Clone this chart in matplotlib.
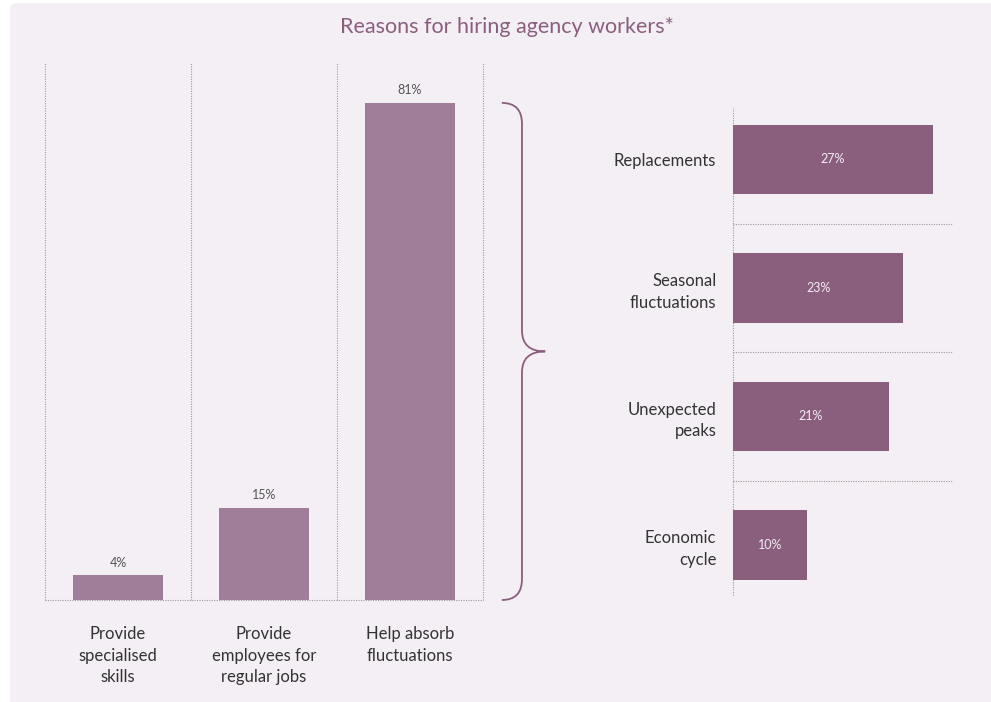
import matplotlib
matplotlib.use("Agg")
import matplotlib.pyplot as plt
from matplotlib.patches import FancyBboxPatch, PathPatch
from matplotlib.path import Path
import matplotlib.transforms as mtransforms

# ---- data ----
title = "Reasons for hiring agency workers*"
left_categories = ["Provide\nspecialised\nskills", "Provide\nemployees for\nregular jobs", "Help absorb\nfluctuations"]
left_values = [4, 15, 81]
right_categories = ["Replacements", "Seasonal\nfluctuations", "Unexpected\npeaks", "Economic\ncycle"]
right_values = [27, 23, 21, 10]

# ---- style ----
FONT = "Lato"
plt.rcParams["font.family"] = [FONT, "DejaVu Sans"]
BG = "#f4eff4"
LEFT_BAR = "#a07e9a"
RIGHT_BAR = "#8a5f7e"
TITLE_C = "#8a5f7e"
TEXT_C = "#333333"
GRID_C = "#9a9a9a"
DOT = (0, (1, 1.2))

W, H = 991, 702
fig = plt.figure(figsize=(W / 100, H / 100), dpi=100)
fig.patch.set_facecolor("white")

# background panel
panel = FancyBboxPatch((10 / W, -0.02), (W - 10) / W + 0.02, 1 - 3 / H + 0.02,
                       boxstyle="round,pad=0,rounding_size=0.008",
                       transform=fig.transFigure, facecolor=BG, edgecolor="none", zorder=-10)
fig.patches.append(panel)

fig.text(507 / W, 1 - 27 / H, title, ha="center", va="center", fontsize=15.5,
         color=TITLE_C, family=[FONT, "DejaVu Sans"])

def px_axes(x0, y0, x1, y1):
    return fig.add_axes([x0 / W, 1 - y1 / H, (x1 - x0) / W, (y1 - y0) / H])

# ---- left chart ----
axL = px_axes(45, 63, 483, 600)
axL.set_facecolor("none")
xs = list(range(len(left_values)))
axL.bar(xs, left_values, width=0.62, color=LEFT_BAR, zorder=2)
axL.set_xlim(-0.5, len(left_values) - 0.5)
axL.set_ylim(0, 87.5)
for b in [i - 0.5 for i in range(len(left_values) + 1)]:
    axL.axvline(b, color=GRID_C, lw=0.8, ls=DOT, zorder=1, clip_on=False)
axL.axhline(0, color=GRID_C, lw=0.8, ls=DOT, zorder=1, clip_on=False)
for x, v in zip(xs, left_values):
    axL.annotate(f"{v}%", (x, v), xytext=(0, 5), textcoords="offset points",
                 ha="center", va="bottom", fontsize=9, color="#555555")
for s in axL.spines.values():
    s.set_visible(False)
axL.set_yticks([])
axL.set_xticks(xs)
axL.set_xticklabels(left_categories, fontsize=12, color=TEXT_C, linespacing=1.42)
axL.tick_params(axis="x", length=0, pad=19)

# brace
bt = mtransforms.blended_transform_factory(axL.transAxes, axL.transData)
top, mid = left_values[-1], left_values[-1] / 2
xa, xb, xc = 1.043, 1.089, 1.142
r = 3.4
verts = [(xa, top), (xb, top), (xb, top - r),
         (xb, mid + r), (xb, mid), (xc, mid),
         (xb, mid), (xb, mid - r),
         (xb, r), (xb, 0), (xa, 0)]
codes = [Path.MOVETO, Path.CURVE3, Path.CURVE3,
         Path.LINETO, Path.CURVE3, Path.CURVE3,
         Path.CURVE3, Path.CURVE3,
         Path.LINETO, Path.CURVE3, Path.CURVE3]
brace = PathPatch(Path(verts, codes), transform=bt, facecolor="none",
                  edgecolor=RIGHT_BAR, lw=1.3, clip_on=False)
axL.add_patch(brace)

# ---- right chart ----
axR = px_axes(733, 108, 953, 595)
axR.set_facecolor("none")
ys = list(range(len(right_values)))
axR.barh(ys, right_values, height=0.54, color=RIGHT_BAR, zorder=2)
axR.set_xlim(0, 29.7)
axR.set_ylim(len(right_values) - 1 + 0.39, -0.40)
axR.axvline(0, color=GRID_C, lw=0.8, ls=DOT, zorder=1, clip_on=False)
for y in ys[:-1]:
    axR.axhline(y + 0.5, color=GRID_C, lw=0.8, ls=DOT, zorder=1)
for y, v in zip(ys, right_values):
    axR.text(v / 2, y, f"{v}%", ha="center", va="center", fontsize=9, color="#f3ecf2", zorder=3)
for s in axR.spines.values():
    s.set_visible(False)
axR.set_xticks([])
axR.set_yticks(ys)
axR.set_yticklabels(right_categories, fontsize=12, color=TEXT_C, linespacing=1.42,
                    ha="right", multialignment="right")
axR.tick_params(axis="y", length=0, pad=12)

fig.savefig("out.png", dpi=100, facecolor=fig.get_facecolor())
